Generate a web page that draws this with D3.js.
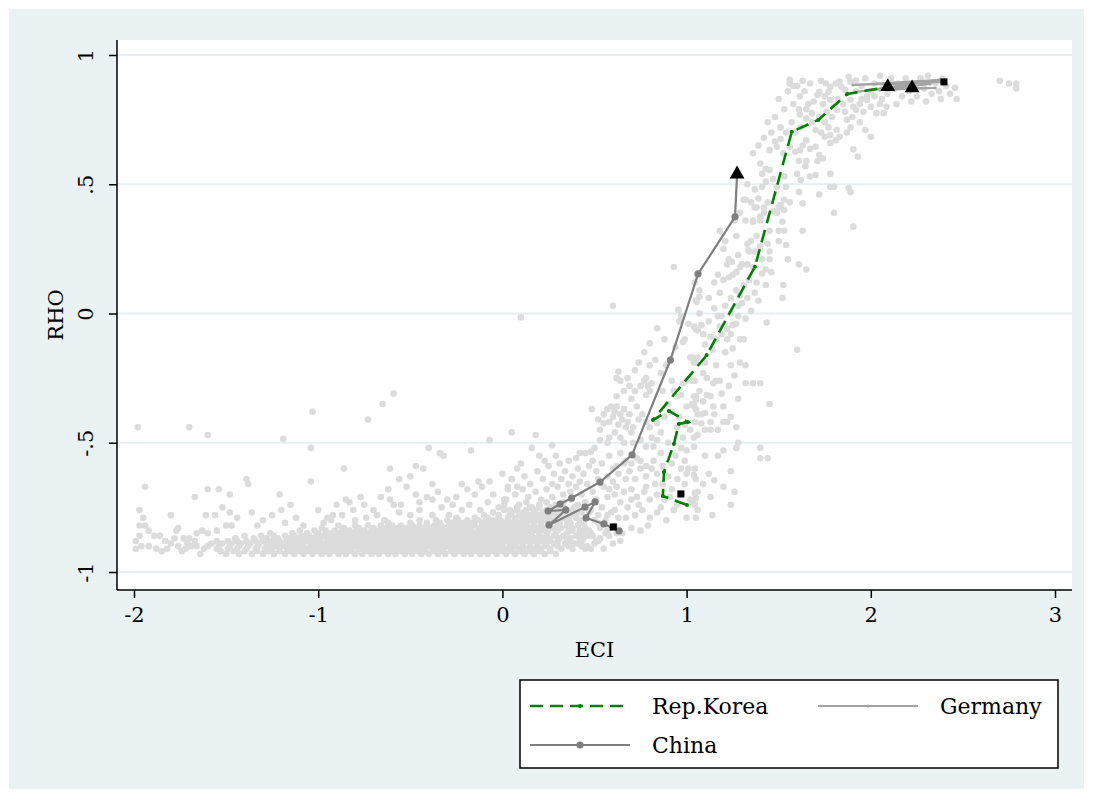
<!DOCTYPE html>
<html>
<head>
  <meta charset="utf-8">
  <script src="https://cdn.jsdelivr.net/npm/d3@7"></script>
  <style>
    body { margin: 0; background: #ffffff; }
    svg { display: block; }
    text { font-family: "DejaVu Serif", serif; fill: #000; }
  </style>
</head>
<body>
  <svg width="1093" height="798"></svg>
  <script>
    var width = 1093;
    var height = 798;

    // axis ticks
    var xTicks = [-2, -1, 0, 1, 2, 3];
    var yTicks = [-1, -0.5, 0, 0.5, 1];
    var yTickLabels = ['-1', '-.5', '0', '.5', '1'];

    // dense lower band of the cloud: one y level per row, x values for that row
    var bandRowY = [-0.93, -0.92, -0.91, -0.90, -0.89, -0.88, -0.87, -0.86, -0.85, -0.84, -0.83, -0.82, -0.81, -0.80, -0.79, -0.78, -0.77, -0.76, -0.75];
    var bandRowX = [
      [-1.50, -1.43, -1.36, -1.30, -1.24, -1.18, -1.13, -1.08, -1.03, -0.98, -0.94, -0.89, -0.85, -0.80, -0.76, -0.71, -0.67, -0.62, -0.58, -0.53, -0.49, -0.44, -0.40, -0.35, -0.31, -0.26, -0.21, -0.17, -0.12, -0.08, -0.03, 0.02, 0.07, 0.12, 0.17, 0.23, 0.29],
      [-1.53, -1.46, -1.40, -1.33, -1.27, -1.21, -1.15, -1.10, -1.05, -1.00, -0.96, -0.91, -0.87, -0.82, -0.78, -0.73, -0.69, -0.64, -0.60, -0.55, -0.51, -0.46, -0.42, -0.37, -0.33, -0.28, -0.24, -0.19, -0.14, -0.10, -0.05, 0.00, 0.05, 0.10, 0.15, 0.20, 0.26],
      [-1.62, -1.55, -1.49, -1.44, -1.39, -1.34, -1.29, -1.25, -1.21, -1.17, -1.13, -1.09, -1.06, -1.02, -0.99, -0.95, -0.92, -0.88, -0.85, -0.82, -0.78, -0.75, -0.72, -0.68, -0.65, -0.62, -0.58, -0.55, -0.52, -0.48, -0.45, -0.42, -0.38, -0.35, -0.32, -0.28, -0.25, -0.22, -0.18, -0.15, -0.12, -0.08, -0.05, -0.02, 0.02, 0.05, 0.09, 0.13, 0.17, 0.21, 0.26, 0.32, 0.38, 0.45],
      [-1.66, -1.60, -1.54, -1.48, -1.43, -1.38, -1.33, -1.28, -1.24, -1.20, -1.16, -1.12, -1.08, -1.04, -1.00, -0.96, -0.93, -0.89, -0.86, -0.83, -0.80, -0.76, -0.73, -0.70, -0.66, -0.63, -0.60, -0.56, -0.53, -0.50, -0.46, -0.43, -0.40, -0.36, -0.33, -0.30, -0.26, -0.23, -0.20, -0.16, -0.13, -0.10, -0.06, -0.03, 0.00, 0.04, 0.07, 0.11, 0.15, 0.19, 0.24, 0.30, 0.36, 0.43],
      [-1.58, -1.52, -1.47, -1.42, -1.37, -1.32, -1.27, -1.23, -1.19, -1.15, -1.11, -1.08, -1.04, -1.01, -0.97, -0.94, -0.90, -0.87, -0.84, -0.80, -0.77, -0.73, -0.70, -0.67, -0.63, -0.60, -0.57, -0.53, -0.50, -0.47, -0.43, -0.40, -0.37, -0.33, -0.30, -0.27, -0.23, -0.20, -0.17, -0.13, -0.10, -0.07, -0.03, 0.00, 0.04, 0.07, 0.11, 0.15, 0.19, 0.23, 0.28, 0.34, 0.41, 0.50],
      [-1.55, -1.49, -1.44, -1.39, -1.34, -1.30, -1.25, -1.21, -1.17, -1.13, -1.09, -1.06, -1.02, -0.99, -0.95, -0.92, -0.88, -0.85, -0.82, -0.79, -0.75, -0.72, -0.69, -0.65, -0.62, -0.59, -0.55, -0.52, -0.49, -0.45, -0.42, -0.39, -0.35, -0.32, -0.29, -0.25, -0.22, -0.19, -0.15, -0.12, -0.09, -0.05, -0.02, 0.02, 0.05, 0.09, 0.13, 0.17, 0.21, 0.25, 0.30, 0.36, 0.43, 0.52],
      [-1.45, -1.35, -1.28, -1.22, -1.16, -1.12, -1.07, -1.03, -0.99, -0.95, -0.91, -0.88, -0.84, -0.81, -0.78, -0.74, -0.71, -0.68, -0.64, -0.61, -0.58, -0.54, -0.51, -0.48, -0.44, -0.41, -0.38, -0.34, -0.31, -0.28, -0.24, -0.21, -0.18, -0.14, -0.11, -0.08, -0.04, -0.01, 0.03, 0.06, 0.10, 0.14, 0.18, 0.22, 0.26, 0.31, 0.37, 0.44, 0.53],
      [-1.40, -1.31, -1.24, -1.18, -1.13, -1.09, -1.05, -1.01, -0.97, -0.93, -0.90, -0.86, -0.83, -0.79, -0.76, -0.72, -0.69, -0.66, -0.63, -0.59, -0.56, -0.53, -0.50, -0.46, -0.43, -0.40, -0.36, -0.33, -0.30, -0.26, -0.23, -0.20, -0.16, -0.13, -0.10, -0.06, -0.03, 0.01, 0.04, 0.08, 0.12, 0.16, 0.20, 0.24, 0.28, 0.33, 0.40, 0.47],
      [-1.26, -1.14, -1.06, -1.00, -0.94, -0.89, -0.85, -0.81, -0.77, -0.73, -0.69, -0.66, -0.62, -0.59, -0.55, -0.52, -0.49, -0.45, -0.42, -0.39, -0.35, -0.32, -0.29, -0.25, -0.22, -0.19, -0.15, -0.12, -0.09, -0.05, -0.02, 0.02, 0.05, 0.09, 0.12, 0.16, 0.20, 0.24, 0.29, 0.35, 0.42, 0.48, 0.56],
      [-1.10, -1.02, -0.96, -0.91, -0.87, -0.83, -0.79, -0.75, -0.71, -0.67, -0.64, -0.60, -0.57, -0.54, -0.50, -0.47, -0.44, -0.40, -0.37, -0.34, -0.30, -0.27, -0.23, -0.20, -0.17, -0.13, -0.10, -0.07, -0.03, 0.00, 0.03, 0.07, 0.10, 0.14, 0.17, 0.21, 0.25, 0.30, 0.36, 0.42],
      [-0.98, -0.86, -0.78, -0.70, -0.63, -0.57, -0.52, -0.47, -0.43, -0.39, -0.35, -0.31, -0.27, -0.24, -0.20, -0.17, -0.13, -0.10, -0.06, -0.03, 0.01, 0.04, 0.08, 0.11, 0.15, 0.19, 0.23, 0.27, 0.32, 0.38, 0.45],
      [-0.80, -0.73, -0.66, -0.60, -0.55, -0.49, -0.45, -0.41, -0.37, -0.33, -0.29, -0.25, -0.22, -0.18, -0.15, -0.11, -0.08, -0.04, -0.01, 0.03, 0.06, 0.10, 0.13, 0.17, 0.21, 0.25, 0.30, 0.35, 0.41],
      [-0.62, -0.50, -0.41, -0.34, -0.27, -0.21, -0.16, -0.11, -0.07, -0.03, 0.01, 0.05, 0.09, 0.13, 0.17, 0.21, 0.26, 0.31, 0.37, 0.44, 0.52],
      [-0.45, -0.36, -0.30, -0.24, -0.19, -0.13, -0.09, -0.05, -0.01, 0.03, 0.07, 0.11, 0.15, 0.19, 0.24, 0.29, 0.35, 0.42],
      [-0.25, -0.15, -0.08, -0.02, 0.03, 0.07, 0.12, 0.16, 0.21, 0.26, 0.33, 0.40],
      [-0.10, -0.02, 0.04, 0.09, 0.14, 0.19, 0.24, 0.30, 0.37],
      [-0.05, 0.05, 0.11, 0.17, 0.22, 0.28, 0.35, 0.47],
      [0.01, 0.08, 0.13, 0.18, 0.24, 0.30, 0.38],
      [0.08, 0.15, 0.20, 0.26, 0.33, 0.40]
    ];

    // loose points around the band (left tail and upper fringe)
    var fringePts = [
      [-1.94, -0.67], [-1.97, -0.76], [-1.95, -0.79], [-1.97, -0.82], [-1.94, -0.82], [-1.92, -0.84], [-1.99, -0.88], [-1.97, -0.86],
      [-1.96, -0.90], [-1.99, -0.91], [-1.92, -0.90], [-1.89, -0.86], [-1.88, -0.91], [-1.85, -0.92], [-1.83, -0.88], [-1.80, -0.78],
      [-1.77, -0.84], [-1.76, -0.83], [-1.80, -0.89], [-1.76, -0.90], [-1.73, -0.87], [-1.71, -0.89], [-1.70, -0.87], [-1.67, -0.88],
      [-1.72, -0.91], [-1.66, -0.85], [-1.63, -0.84], [-1.61, -0.78], [-1.56, -0.78], [-1.52, -0.75], [-1.48, -0.77], [-1.50, -0.82],
      [-1.67, -0.71], [-1.60, -0.68], [-1.54, -0.68], [-1.48, -0.70], [-1.39, -0.64], [-1.38, -0.66], [-1.21, -0.70], [-1.44, -0.79],
      [-1.36, -0.77], [-1.30, -0.80], [-1.25, -0.78], [-1.33, -0.82], [-1.47, -0.82], [-1.55, -0.84], [-1.60, -0.85], [-1.18, -0.81],
      [-1.12, -0.79], [-1.08, -0.82], [-1.04, -0.65], [-1.04, -0.52], [-0.97, -0.81], [-0.93, -0.80], [-0.89, -0.82], [-0.80, -0.80],
      [-0.74, -0.79], [-0.68, -0.78], [-0.64, -0.80], [-0.56, -0.77], [-0.50, -0.78], [-0.45, -0.76], [-0.38, -0.78], [-0.33, -0.75],
      [-0.29, -0.78], [-0.22, -0.76], [-0.18, -0.74], [-0.12, -0.76], [-0.08, -0.73], [-0.02, -0.75], [0.02, -0.72], [-0.15, -0.70],
      [-0.30, -0.72], [-0.45, -0.73], [-0.55, -0.74], [-0.35, -0.69], [-0.86, -0.60], [-0.61, -0.60], [-0.47, -0.59], [-0.43, -0.60],
      [-0.56, -0.64], [-0.50, -0.63], [-0.62, -0.68], [-0.52, -0.67], [-0.38, -0.66], [-0.22, -0.66], [-0.13, -0.65], [-0.07, -0.65],
      [-0.11, -0.67], [0.05, -0.64], [0.03, -0.67], [0.08, -0.67], [-0.66, -0.71], [-0.61, -0.72], [-0.59, -0.74], [-0.47, -0.70],
      [-0.41, -0.71], [-0.38, -0.72], [-0.25, -0.71], [-0.05, -0.70], [0.01, -0.72], [-0.85, -0.72], [-0.83, -0.73], [-0.75, -0.74],
      [-0.70, -0.76], [-0.81, -0.76], [-0.95, -0.79], [-0.92, -0.78], [-0.87, -0.78], [-0.40, -0.52], [-0.34, -0.54], [-0.32, -0.55],
      [-0.17, -0.53], [-0.07, -0.49], [0.05, -0.46], [-1.86, -0.86], [-1.82, -0.91], [-1.78, -0.87], [-1.74, -0.92], [-1.69, -0.90],
      [-1.64, -0.93], [-1.20, -0.76], [-1.15, -0.74], [-1.00, -0.76], [-0.90, -0.74], [-0.77, -0.71], [-0.19, -0.68], [-0.27, -0.74]
    ];

    // the rising part of the cloud
    var risePts = [
      [0.00, -0.62], [0.05, -0.64], [0.08, -0.60], [0.12, -0.63], [0.15, -0.66], [0.19, -0.61], [0.22, -0.64], [0.25, -0.59],
      [0.28, -0.62], [0.10, -0.58], [0.03, -0.68], [0.07, -0.70], [0.11, -0.68], [0.14, -0.71], [0.18, -0.69], [0.21, -0.72],
      [0.24, -0.68], [0.27, -0.71], [0.30, -0.67], [0.33, -0.70], [0.36, -0.66], [0.01, -0.74], [0.04, -0.76], [0.09, -0.74],
      [0.13, -0.73], [0.16, -0.75], [0.20, -0.74], [0.24, -0.73], [0.29, -0.74], [0.33, -0.73], [0.37, -0.72], [0.31, -0.58],
      [0.34, -0.61], [0.38, -0.63], [0.41, -0.60], [0.44, -0.62], [0.47, -0.59], [0.40, -0.67], [0.43, -0.70], [0.46, -0.66],
      [0.49, -0.69], [0.52, -0.64], [0.55, -0.67], [0.41, -0.74], [0.45, -0.73], [0.48, -0.76], [0.51, -0.72], [0.54, -0.75],
      [0.57, -0.71], [0.59, -0.77], [0.40, -0.78], [0.44, -0.81], [0.47, -0.84], [0.50, -0.80], [0.53, -0.83], [0.56, -0.80],
      [0.58, -0.86], [0.61, -0.82], [0.63, -0.79], [0.65, -0.85], [0.36, -0.79], [0.38, -0.84], [0.42, -0.87], [0.46, -0.90],
      [0.51, -0.88], [0.55, -0.91], [0.60, -0.89], [0.64, -0.88], [0.60, -0.60], [0.63, -0.62], [0.66, -0.58], [0.69, -0.61],
      [0.72, -0.64], [0.75, -0.60], [0.78, -0.63], [0.81, -0.60], [0.84, -0.62], [0.87, -0.59], [0.90, -0.63], [0.62, -0.67],
      [0.66, -0.69], [0.70, -0.68], [0.73, -0.71], [0.77, -0.69], [0.80, -0.72], [0.84, -0.70], [0.88, -0.72], [0.92, -0.68],
      [0.95, -0.64], [0.97, -0.60], [0.68, -0.75], [0.72, -0.78], [0.76, -0.76], [0.80, -0.79], [0.84, -0.77], [0.89, -0.80],
      [0.93, -0.76], [0.70, -0.83], [0.75, -0.84], [0.79, -0.82], [0.99, -0.66], [1.00, -0.62], [1.01, -0.60], [1.05, -0.64],
      [1.02, -0.72], [1.06, -0.76], [1.00, -0.79], [0.18, -0.47], [0.16, -0.52], [0.27, -0.51], [0.29, -0.55], [0.42, -0.54],
      [0.45, -0.54], [0.48, -0.535], [0.49, -0.57], [0.53, -0.49], [0.57, -0.50], [0.58, -0.48], [0.61, -0.46], [0.64, -0.48],
      [0.66, -0.50], [0.67, -0.44], [0.70, -0.46], [0.71, -0.50], [0.53, -0.45], [0.55, -0.425], [0.75, -0.49], [0.78, -0.515],
      [0.81, -0.48], [0.64, -0.54], [0.67, -0.57], [0.62, -0.59], [0.75, -0.57], [0.78, -0.59], [0.82, -0.57], [0.86, -0.54],
      [0.485, -0.37], [0.57, -0.37], [0.59, -0.36], [0.62, -0.36], [0.61, -0.38], [0.64, -0.39], [0.66, -0.37], [0.69, -0.39],
      [0.73, -0.36], [0.74, -0.41], [0.76, -0.39], [0.78, -0.42], [0.80, -0.44], [0.71, -0.44], [0.84, -0.425], [0.86, -0.46],
      [0.84, -0.49], [0.82, -0.515], [0.95, -0.44], [0.98, -0.48], [1.02, -0.45], [1.04, -0.48], [1.04, -0.515], [1.00, -0.53],
      [0.63, -0.225], [0.62, -0.25], [0.64, -0.26], [0.78, -0.25], [0.69, -0.28], [0.81, -0.27], [0.80, -0.30], [0.78, -0.315],
      [0.92, -0.26], [0.93, -0.30], [0.95, -0.32], [0.97, -0.315], [1.03, -0.26], [1.05, -0.32], [1.00, -0.36], [1.04, -0.35],
      [1.06, -0.39], [0.84, -0.057], [0.96, -0.03], [1.04, -0.05], [1.05, -0.06], [0.99, -0.10], [1.03, -0.17], [1.05, -0.19],
      [0.955, 0.014], [0.97, -0.01], [1.055, -0.064], [1.01, -0.04], [0.88, -0.10], [0.80, -0.115], [0.94, -0.13], [0.98, -0.11],
      [0.77, -0.26], [0.79, -0.28], [0.98, -0.27], [1.00, -0.26], [1.03, -0.35], [1.07, -0.30], [1.11, -0.315], [1.145, -0.27],
      [1.18, -0.26], [0.93, 0.18], [1.04, -0.32], [1.05, -0.335], [1.03, -0.355], [1.09, -0.34], [1.05, -0.37], [1.10, -0.385],
      [1.145, -0.36], [1.15, -0.39], [1.08, -0.39], [1.045, -0.42], [1.08, -0.425], [1.13, -0.42], [1.20, -0.42], [1.22, -0.42],
      [1.17, -0.45], [1.13, -0.45], [1.10, -0.45], [1.06, -0.47], [1.20, -0.53], [1.28, -0.50], [1.045, -0.60], [1.04, -0.625],
      [1.15, -0.645], [1.24, -0.61], [1.045, -0.695], [1.06, -0.69], [1.05, -0.715], [1.03, -0.73], [1.045, -0.74], [1.13, -0.71],
      [1.20, -0.67], [1.26, -0.69], [1.24, -0.74], [1.14, -0.78], [1.05, -0.79], [1.40, -0.52], [1.44, -0.56], [1.40, -0.56],
      [1.27, -0.52], [1.40, -0.27], [1.36, -0.27], [1.32, -0.27], [1.28, -0.33], [1.45, -0.35], [1.60, -0.14],
      [0.26, -0.78], [0.31, -0.77], [0.35, -0.76], [0.39, -0.75], [0.43, -0.77], [0.27, -0.66], [0.32, -0.64], [0.37, -0.69],
      [0.42, -0.65], [0.35, -0.87], [0.39, -0.89], [0.44, -0.85], [0.49, -0.86], [0.53, -0.87], [0.57, -0.84], [0.62, -0.85],
      [0.48, -0.91], [0.52, -0.78], [0.57, -0.78], [0.61, -0.76], [0.58, -0.68], [0.61, -0.70], [0.64, -0.73], [0.67, -0.79],
      [0.70, -0.72], [0.74, -0.74], [0.67, -0.64], [0.70, -0.58], [0.73, -0.56], [0.57, -0.63], [0.60, -0.65], [0.51, -0.61],
      [0.54, -0.58], [0.58, -0.55], [0.50, -0.52], [0.36, -0.57], [0.40, -0.56], [0.23, -0.57], [0.20, -0.55], [0.87, -0.66],
      [0.91, -0.71], [0.95, -0.74], [0.97, -0.70], [0.86, -0.75], [0.83, -0.66], [0.78, -0.67], [0.52, -0.41], [0.55, -0.39],
      [0.58, -0.42], [0.60, -0.40], [0.63, -0.43], [0.65, -0.41], [0.68, -0.42], [0.62, -0.32], [0.66, -0.30], [0.70, -0.33],
      [0.72, -0.30], [0.68, -0.25], [0.72, -0.22], [0.75, -0.28], [0.74, -0.19], [0.77, -0.15], [0.80, -0.20], [0.83, -0.18],
      [0.86, -0.23], [0.89, -0.20], [0.87, -0.30], [0.90, -0.35], [0.88, -0.40], [0.92, -0.38], [0.96, -0.40], [0.99, -0.43],
      [0.94, -0.55], [0.97, -0.52], [0.90, -0.50], [0.92, -0.58], [0.99, -0.57]
    ];

    // upper part of the cloud, where it bends over
    var upperPts = [
      [1.02, -0.17], [1.04, -0.19], [1.06, -0.17], [1.10, -0.19], [1.09, -0.23], [1.11, -0.25], [1.045, -0.26], [1.16, -0.26],
      [1.24, -0.20], [1.32, -0.20], [1.13, -0.09], [1.16, -0.10], [1.19, -0.08], [1.22, -0.10], [1.17, -0.01], [1.19, -0.01],
      [1.18, -0.05], [1.22, -0.06], [1.24, -0.08], [1.25, -0.045], [1.28, -0.01], [1.32, -0.02], [1.29, -0.10], [1.25, -0.135],
      [1.21, -0.15], [1.31, -0.10], [1.435, -0.035], [1.07, 0.00], [1.08, -0.045], [1.06, -0.065], [1.09, -0.08], [1.07, 0.09],
      [1.05, 0.05], [1.045, 0.12], [1.07, 0.065], [1.055, 0.045], [1.27, 0.09], [1.29, 0.07], [1.24, 0.06], [1.28, 0.03],
      [1.38, 0.12], [1.43, 0.11], [1.37, 0.08], [1.525, 0.11], [1.52, 0.06], [1.41, 0.155], [1.43, 0.17], [1.46, 0.16],
      [1.17, 0.15], [1.20, 0.13], [1.23, 0.14], [1.25, 0.15], [1.15, 0.12], [1.22, 0.19], [1.245, 0.20], [1.29, 0.18],
      [1.30, 0.19], [1.41, 0.21], [1.45, 0.21], [1.55, 0.21], [1.61, 0.19], [1.65, 0.17], [1.33, 0.27], [1.35, 0.28],
      [1.37, 0.24], [1.34, 0.24], [1.38, 0.30], [1.40, 0.26], [1.44, 0.27], [1.45, 0.24], [1.50, 0.28], [1.54, 0.265],
      [1.18, 0.32], [1.21, 0.28], [1.27, 0.30], [1.20, 0.25], [1.23, 0.21], [1.28, 0.226], [1.335, 0.245], [1.45, 0.32],
      [1.50, 0.32], [1.53, 0.32], [1.63, 0.32], [1.32, 0.36], [1.36, 0.355], [1.40, 0.36], [1.51, 0.42], [1.53, 0.40],
      [1.49, 0.39], [1.52, 0.355], [1.38, 0.41], [1.42, 0.39], [1.44, 0.43], [1.35, 0.43], [1.31, 0.44], [1.32, 0.44],
      [1.39, 0.445], [1.37, 0.41], [1.42, 0.41], [1.40, 0.375], [1.36, 0.36], [1.47, 0.395], [1.50, 0.41], [1.53, 0.44],
      [1.56, 0.43], [1.61, 0.47], [1.63, 0.426], [1.72, 0.46], [1.78, 0.49], [1.80, 0.39], [1.905, 0.336], [1.89, 0.47],
      [1.88, 0.485], [1.40, 0.58], [1.43, 0.56], [1.41, 0.54], [1.45, 0.555], [1.47, 0.52], [1.43, 0.51], [1.41, 0.49],
      [1.49, 0.49], [1.53, 0.53], [1.54, 0.49], [1.60, 0.54], [1.62, 0.516], [1.645, 0.57], [1.67, 0.53], [1.70, 0.536],
      [1.61, 0.59], [1.65, 0.59], [1.71, 0.59], [1.78, 0.54], [1.80, 0.49], [1.46, 0.70], [1.48, 0.665], [1.51, 0.675],
      [1.49, 0.645], [1.45, 0.632], [1.525, 0.62], [1.56, 0.645], [1.59, 0.626], [1.615, 0.632], [1.63, 0.65], [1.65, 0.67],
      [1.67, 0.637], [1.70, 0.645], [1.72, 0.613], [1.74, 0.60], [1.75, 0.684], [1.78, 0.66], [1.81, 0.67], [1.97, 0.71],
      [2.00, 0.684], [1.905, 0.635], [1.93, 0.607], [1.615, 0.77], [1.65, 0.755], [1.68, 0.74], [1.72, 0.76], [1.75, 0.74],
      [1.77, 0.72], [1.73, 0.70], [1.70, 0.71], [1.78, 0.69], [1.815, 0.71], [1.81, 0.67], [1.83, 0.684], [1.87, 0.75],
      [1.87, 0.70], [1.89, 0.72], [1.615, 0.84], [1.58, 0.81], [1.61, 0.79], [1.65, 0.79], [1.68, 0.775], [1.74, 0.81],
      [1.75, 0.84], [1.78, 0.827], [1.80, 0.80], [1.815, 0.787], [1.85, 0.81], [1.89, 0.827], [1.905, 0.80], [1.92, 0.787],
      [1.94, 0.81], [1.98, 0.826], [2.00, 0.80], [2.02, 0.84], [2.05, 0.81], [2.07, 0.775], [2.085, 0.80], [2.03, 0.775],
      [1.56, 0.905], [1.58, 0.88], [1.56, 0.89], [1.73, 0.90], [1.756, 0.89], [1.78, 0.877], [1.77, 0.858], [1.72, 0.858],
      [1.71, 0.845], [1.81, 0.89], [1.83, 0.897], [1.84, 0.877], [1.88, 0.916], [1.89, 0.897], [1.86, 0.865],
      [1.10, -0.12], [1.14, -0.14], [1.12, -0.03], [1.15, 0.02], [1.12, 0.06], [1.18, 0.08], [1.21, 0.03], [1.24, 0.00],
      [1.27, -0.04], [1.30, 0.04], [1.33, 0.06], [1.35, 0.01], [1.34, 0.13], [1.31, 0.11], [1.27, 0.16], [1.33, 0.19],
      [1.36, 0.18], [1.39, 0.05], [1.26, 0.36], [1.29, 0.39], [1.33, 0.50], [1.37, 0.48], [1.36, 0.62], [1.39, 0.65],
      [1.42, 0.68], [1.44, 0.74], [1.48, 0.76], [1.51, 0.72], [1.54, 0.70], [1.57, 0.74], [1.53, 0.79], [1.50, 0.83],
      [1.55, 0.86], [1.59, 0.70], [1.62, 0.72], [1.19, -0.31], [1.23, -0.28], [1.26, -0.24], [1.29, -0.19], [1.16, -0.20],
      [1.13, -0.32], [1.20, -0.36], [1.24, -0.40], [1.27, -0.44], [1.17, -0.55], [1.10, -0.55], [1.12, -0.62], [1.09, -0.66],
      [1.64, 0.86], [1.67, 0.89], [1.69, 0.82], [1.66, 0.81], [1.76, 0.78], [1.79, 0.76], [1.82, 0.83], [1.86, 0.78],
      [1.90, 0.76], [1.94, 0.74], [1.96, 0.78], [1.60, 0.88], [1.63, 0.90], [1.92, 0.86], [1.95, 0.83]
    ];

    // top plateau and far-right points
    var topPts = [
      [1.92, 0.90], [1.95, 0.88], [1.97, 0.91], [2.00, 0.86], [2.02, 0.89], [2.05, 0.92], [2.07, 0.88], [2.09, 0.85],
      [2.11, 0.91], [2.13, 0.87], [2.15, 0.89], [2.17, 0.84], [2.19, 0.91], [2.21, 0.86], [2.23, 0.89], [2.25, 0.84],
      [2.27, 0.91], [2.29, 0.87], [2.31, 0.92], [2.33, 0.85], [2.35, 0.89], [2.37, 0.86], [2.39, 0.91], [2.41, 0.88],
      [2.43, 0.85], [2.38, 0.83], [2.30, 0.82], [2.22, 0.82], [2.14, 0.81], [2.06, 0.83], [1.98, 0.84], [2.457, 0.873],
      [2.466, 0.83], [2.70, 0.90], [2.75, 0.89], [2.79, 0.87], [2.79, 0.89]
    ];

    // isolated points far from the cloud
    var strayPts = [
      [-1.98, -0.44], [-1.70, -0.44], [-1.60, -0.47], [-1.19, -0.485], [-1.03, -0.38], [-0.73, -0.41], [-0.65, -0.35],
      [-0.59, -0.31], [0.10, -0.015], [0.60, 0.03]
    ];

    // country paths (ECI, RHO) in time order
    var koreaECI = [1.002, 0.871, 0.877, 0.931, 0.958, 1.007, 0.904, 0.817, 1.109, 1.371, 1.571, 1.715, 1.872, 2.092];
    var koreaRHO = [-0.741, -0.706, -0.613, -0.505, -0.427, -0.420, -0.377, -0.412, -0.161, 0.181, 0.703, 0.749, 0.849, 0.877];
    var chinaECI = [0.633, 0.551, 0.454, 0.503, 0.448, 0.253, 0.344, 0.248, 0.313, 0.376, 0.530, 0.704, 0.912, 1.062, 1.263, 1.274];
    var chinaRHO = [-0.841, -0.814, -0.791, -0.729, -0.749, -0.818, -0.760, -0.764, -0.737, -0.714, -0.652, -0.547, -0.180, 0.153, 0.374, 0.539];
    var germanyECI = [2.397, 1.903, 2.376, 1.915, 2.322, 2.050, 2.350, 2.224];
    var germanyRHO = [0.896, 0.884, 0.904, 0.857, 0.888, 0.865, 0.872, 0.872];

    // first-year squares and last-year triangles
    var startECI = [0.602, 0.969, 2.397];
    var startRHO = [-0.826, -0.698, 0.896];
    var endECI = [1.274, 2.092, 2.224];
    var endRHO = [0.539, 0.877, 0.872];

    var legendNames = ['Rep.Korea', 'Germany', 'China'];

    var svg = d3.select('svg');

    var x = d3.scaleLinear().domain([-2, 3]).range([134, 1055]);
    var y = d3.scaleLinear().domain([-1, 1]).range([572, 55]);

    var plot = { left: 117, right: 1072, top: 40, bottom: 590 };

    // backgrounds
    svg.append('rect').attr('x', 9).attr('y', 9).attr('width', 1075).attr('height', 780).attr('fill', '#eaf2f3');
    svg.append('rect').attr('x', plot.left).attr('y', plot.top)
      .attr('width', plot.right - plot.left).attr('height', plot.bottom - plot.top).attr('fill', '#ffffff');

    // grid lines
    svg.append('g').selectAll('line').data(yTicks).enter().append('line')
      .attr('x1', plot.left).attr('x2', plot.right)
      .attr('y1', function (d) { return y(d); }).attr('y2', function (d) { return y(d); })
      .attr('stroke', '#e6eff1').attr('stroke-width', 2);

    // cloud
    var cloud = [];
    bandRowY.forEach(function (ry, i) {
      bandRowX[i].forEach(function (rx) { cloud.push([rx, ry]); });
    });
    cloud = cloud.concat(fringePts, risePts, upperPts, topPts, strayPts);

    svg.append('g').selectAll('circle').data(cloud).enter().append('circle')
      .attr('cx', function (d) { return x(d[0]); })
      .attr('cy', function (d) { return y(d[1]); })
      .attr('r', 3.3)
      .attr('fill', '#dcdcdc');

    function pairs(xs, ys) {
      return xs.map(function (v, i) { return [v, ys[i]]; });
    }
    var line = d3.line().x(function (d) { return x(d[0]); }).y(function (d) { return y(d[1]); });

    var germany = pairs(germanyECI, germanyRHO);
    var china = pairs(chinaECI, chinaRHO);
    var korea = pairs(koreaECI, koreaRHO);

    // Germany
    svg.append('path').datum(germany).attr('d', line)
      .attr('fill', 'none').attr('stroke', '#a3a3a3').attr('stroke-width', 2);
    svg.append('g').selectAll('circle').data(germany).enter().append('circle')
      .attr('cx', function (d) { return x(d[0]); }).attr('cy', function (d) { return y(d[1]); })
      .attr('r', 1.5).attr('fill', '#a3a3a3');

    // China
    svg.append('path').datum(china).attr('d', line)
      .attr('fill', 'none').attr('stroke', '#7f7f7f').attr('stroke-width', 2.2);
    svg.append('g').selectAll('circle').data(china.slice(0, -1)).enter().append('circle')
      .attr('cx', function (d) { return x(d[0]); }).attr('cy', function (d) { return y(d[1]); })
      .attr('r', 3.6).attr('fill', '#7f7f7f');

    // Korea
    svg.append('path').datum(korea).attr('d', line)
      .attr('fill', 'none').attr('stroke', '#008000').attr('stroke-width', 2.6)
      .attr('stroke-dasharray', '13,7');
    svg.append('g').selectAll('circle').data(korea.slice(0, -1)).enter().append('circle')
      .attr('cx', function (d) { return x(d[0]); }).attr('cy', function (d) { return y(d[1]); })
      .attr('r', 2).attr('fill', '#008000');

    // start squares, end triangles
    svg.append('g').selectAll('path').data(pairs(startECI, startRHO)).enter().append('path')
      .attr('d', d3.symbol().type(d3.symbolSquare).size(50))
      .attr('transform', function (d) { return 'translate(' + x(d[0]) + ',' + y(d[1]) + ')'; })
      .attr('fill', '#000');
    svg.append('g').selectAll('path').data(pairs(endECI, endRHO)).enter().append('path')
      .attr('d', d3.symbol().type(d3.symbolTriangle).size(95))
      .attr('transform', function (d) { return 'translate(' + x(d[0]) + ',' + y(d[1]) + ')'; })
      .attr('fill', '#000');

    // axes
    var xAxis = d3.axisBottom(x).tickValues(xTicks).tickSize(8).tickPadding(9)
      .tickFormat(function (d) { return d3.format('d')(d).replace('−', '-'); });
    var gx = svg.append('g').attr('transform', 'translate(0,' + plot.bottom + ')').call(xAxis);
    gx.select('.domain').attr('d', 'M' + plot.left + ',0H' + plot.right);

    var yAxis = d3.axisLeft(y).tickValues(yTicks).tickSize(8)
      .tickFormat(function (d, i) { return yTickLabels[i]; });
    var gy = svg.append('g').attr('transform', 'translate(' + plot.left + ',0)').call(yAxis);
    gy.select('.domain').attr('d', 'M0,' + plot.top + 'V' + plot.bottom);
    gy.selectAll('.tick text')
      .attr('x', null).attr('dy', null)
      .attr('text-anchor', 'middle')
      .attr('transform', 'translate(-24,0) rotate(-90)');

    [gx, gy].forEach(function (g) {
      g.selectAll('.domain').attr('stroke', '#000').attr('stroke-width', 1.5);
      g.selectAll('.tick line').attr('stroke', '#000').attr('stroke-width', 1.5);
      g.selectAll('.tick text').attr('font-family', '"DejaVu Serif", serif').attr('font-size', 21).attr('fill', '#000');
    });

    svg.append('text').attr('x', (plot.left + plot.right) / 2).attr('y', 657)
      .attr('text-anchor', 'middle').attr('font-size', 21).text('ECI');
    svg.append('text').attr('transform', 'translate(63,' + ((plot.top + plot.bottom) / 2) + ') rotate(-90)')
      .attr('text-anchor', 'middle').attr('font-size', 21).text('RHO');

    // legend
    var lg = svg.append('g');
    lg.append('rect').attr('x', 520).attr('y', 680).attr('width', 538).attr('height', 88)
      .attr('fill', '#fff').attr('stroke', '#000').attr('stroke-width', 1.5);
    var keys = [
      { name: legendNames[0], x: 530, y: 706, color: '#008000', dash: '13,7', r: 2, w: 2.6 },
      { name: legendNames[1], x: 818, y: 706, color: '#a3a3a3', dash: null, r: 1.5, w: 2 },
      { name: legendNames[2], x: 530, y: 745, color: '#7f7f7f', dash: null, r: 3.6, w: 2.2 }
    ];
    keys.forEach(function (k) {
      lg.append('line').attr('x1', k.x).attr('x2', k.x + 100).attr('y1', k.y).attr('y2', k.y)
        .attr('stroke', k.color).attr('stroke-width', k.w).attr('stroke-dasharray', k.dash);
      lg.append('circle').attr('cx', k.x + 50).attr('cy', k.y).attr('r', k.r).attr('fill', k.color);
      lg.append('text').attr('x', k.x + 122).attr('y', k.y + 8).attr('font-size', 22).text(k.name);
    });
  </script>
</body>
</html>
